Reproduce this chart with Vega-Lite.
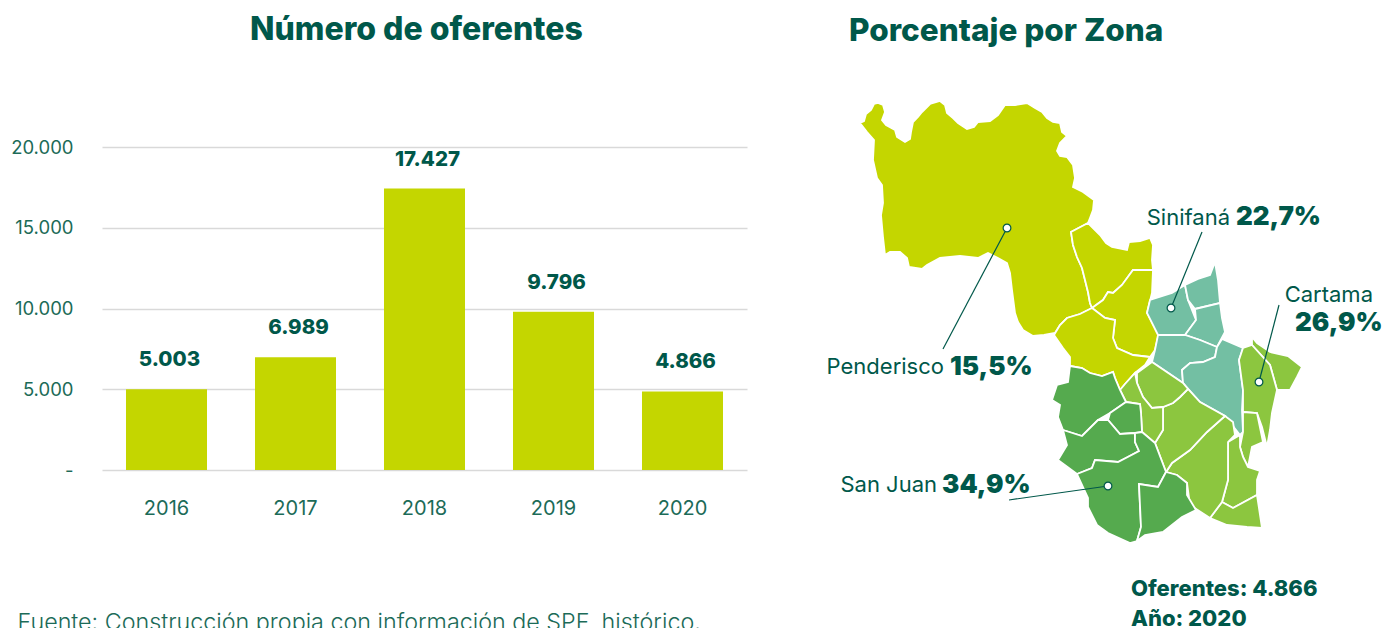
{
"$schema":"https://vega.github.io/schema/vega-lite/v6.json",
"padding":0,"spacing":0,"bounds":"flush","background":"white",
"config":{"view":{"stroke":null},"font":"Inter","locale":{"number":{"decimal":",","thousands":".","grouping":[3],"currency":["$",""]}}},
"datasets":{
"oferentes":[{"anio":"2016","valor":5003},{"anio":"2017","valor":6989},{"anio":"2018","valor":17427},{"anio":"2019","valor":9796},{"anio":"2020","valor":4866}],
"zonas":[
{"type":"Feature","properties":{"zona":"Penderisco"},"geometry":{"type":"Polygon","coordinates":[[[860,123],[864,121],[866,114],[871,110],[874,104],[878,103],[883,105],[885,112],[882,120],[886,125],[895,130],[897,137],[905,142],[910,139],[911,132],[913,122],[918,117],[922,112],[930,104],[940,101],[945,105],[947,113],[953,118],[958,123],[967,129],[974,127],[978,122],[990,121],[998,115],[1005,105],[1015,105],[1027,103],[1035,108],[1042,112],[1047,118],[1053,122],[1060,123],[1062,132],[1067,136],[1060,143],[1057,151],[1060,156],[1067,157],[1073,165],[1075,178],[1073,187],[1083,192],[1094,200],[1093,210],[1090,218],[1088,223],[1071,232],[1073,245],[1077,257],[1082,268],[1085,280],[1088,292],[1090,303],[1092,308],[1080,314],[1067,318],[1060,325],[1055,333],[1044,335],[1033,336],[1023,330],[1018,322],[1015,313],[1012,290],[1010,273],[1007,263],[998,258],[988,253],[978,258],[960,256],[940,258],[927,265],[922,269],[909,267],[907,258],[900,252],[890,252],[885,255],[883,237],[881,215],[883,203],[882,185],[877,178],[873,160],[874,140],[867,132],[860,123]]]}},
{"type":"Feature","properties":{"zona":"Penderisco"},"geometry":{"type":"Polygon","coordinates":[[[1088,223],[1100,235],[1106,243],[1112,247],[1127,250],[1129,242],[1140,241],[1150,238],[1153,245],[1152,260],[1153,270],[1133,270],[1122,285],[1113,293],[1108,292],[1103,300],[1092,308],[1090,303],[1088,292],[1085,280],[1082,268],[1077,257],[1073,245],[1071,232],[1088,223]]]}},
{"type":"Feature","properties":{"zona":"Penderisco"},"geometry":{"type":"Polygon","coordinates":[[[1092,308],[1103,300],[1108,292],[1113,293],[1122,285],[1133,270],[1153,270],[1152,293],[1147,313],[1158,333],[1158,337],[1155,350],[1150,357],[1133,355],[1117,348],[1113,338],[1115,320],[1105,318],[1092,308]]]}},
{"type":"Feature","properties":{"zona":"Penderisco"},"geometry":{"type":"Polygon","coordinates":[[[1092,308],[1105,318],[1115,320],[1113,338],[1117,348],[1133,355],[1150,357],[1145,365],[1135,373],[1125,384],[1120,390],[1115,378],[1113,372],[1102,376],[1090,373],[1082,368],[1070,366],[1070,357],[1063,348],[1054,335],[1060,325],[1067,318],[1080,314],[1092,308]]]}},
{"type":"Feature","properties":{"zona":"Sinifaná"},"geometry":{"type":"Polygon","coordinates":[[[1150,300],[1172,293],[1185,285],[1188,300],[1196,320],[1185,335],[1158,335],[1147,313],[1150,300]]]}},
{"type":"Feature","properties":{"zona":"Sinifaná"},"geometry":{"type":"Polygon","coordinates":[[[1185,285],[1198,279],[1210,275],[1215,262],[1218,280],[1220,303],[1195,309],[1188,300],[1185,285]]]}},
{"type":"Feature","properties":{"zona":"Sinifaná"},"geometry":{"type":"Polygon","coordinates":[[[1195,309],[1220,303],[1222,318],[1225,332],[1217,347],[1200,340],[1185,335],[1196,320],[1195,309]]]}},
{"type":"Feature","properties":{"zona":"Sinifaná"},"geometry":{"type":"Polygon","coordinates":[[[1158,335],[1185,335],[1200,340],[1217,347],[1215,357],[1203,362],[1190,363],[1182,370],[1183,383],[1152,362],[1155,350],[1158,335]]]}},
{"type":"Feature","properties":{"zona":"Sinifaná"},"geometry":{"type":"Polygon","coordinates":[[[1217,347],[1222,339],[1243,348],[1239,360],[1243,390],[1242,410],[1243,432],[1240,435],[1225,416],[1200,402],[1183,383],[1182,370],[1190,363],[1203,362],[1215,357],[1217,347]]]}},
{"type":"Feature","properties":{"zona":"Cartama"},"geometry":{"type":"Polygon","coordinates":[[[1252,337],[1257,343],[1270,352],[1288,356],[1302,367],[1297,377],[1290,390],[1277,390],[1270,365],[1252,345],[1252,337]]]}},
{"type":"Feature","properties":{"zona":"Cartama"},"geometry":{"type":"Polygon","coordinates":[[[1252,345],[1270,365],[1277,390],[1272,413],[1270,430],[1267,447],[1262,427],[1257,413],[1243,412],[1243,390],[1239,360],[1243,348],[1252,345]]]}},
{"type":"Feature","properties":{"zona":"Cartama"},"geometry":{"type":"Polygon","coordinates":[[[1243,412],[1257,413],[1263,442],[1252,447],[1248,467],[1243,457],[1240,447],[1243,432],[1243,412]]]}},
{"type":"Feature","properties":{"zona":"Cartama"},"geometry":{"type":"Polygon","coordinates":[[[1240,435],[1240,447],[1243,457],[1248,467],[1260,471],[1257,480],[1257,495],[1233,508],[1222,502],[1228,480],[1228,442],[1240,435]]]}},
{"type":"Feature","properties":{"zona":"Cartama"},"geometry":{"type":"Polygon","coordinates":[[[1222,502],[1233,508],[1257,495],[1262,528],[1247,527],[1227,525],[1210,518],[1222,502]]]}},
{"type":"Feature","properties":{"zona":"Cartama"},"geometry":{"type":"Polygon","coordinates":[[[1225,416],[1233,422],[1235,435],[1228,442],[1228,480],[1222,502],[1210,518],[1190,505],[1187,483],[1177,475],[1166,472],[1172,463],[1190,450],[1207,432],[1225,416]]]}},
{"type":"Feature","properties":{"zona":"Cartama"},"geometry":{"type":"Polygon","coordinates":[[[1188,389],[1200,402],[1225,416],[1207,432],[1190,450],[1172,463],[1166,472],[1155,443],[1163,430],[1163,407],[1173,403],[1180,397],[1188,389]]]}},
{"type":"Feature","properties":{"zona":"Cartama"},"geometry":{"type":"Polygon","coordinates":[[[1152,362],[1183,383],[1188,389],[1180,397],[1173,403],[1163,407],[1152,408],[1143,397],[1137,383],[1137,373],[1152,362]]]}},
{"type":"Feature","properties":{"zona":"Cartama"},"geometry":{"type":"Polygon","coordinates":[[[1135,373],[1137,383],[1143,397],[1152,408],[1163,407],[1163,430],[1155,443],[1142,432],[1141,413],[1140,404],[1126,402],[1120,390],[1125,384],[1135,373]]]}},
{"type":"Feature","properties":{"zona":"San Juan"},"geometry":{"type":"Polygon","coordinates":[[[1070,366],[1082,368],[1090,373],[1102,376],[1113,372],[1115,378],[1120,390],[1126,402],[1110,413],[1098,420],[1082,436],[1063,430],[1058,417],[1060,405],[1052,400],[1057,385],[1068,382],[1070,366]]]}},
{"type":"Feature","properties":{"zona":"San Juan"},"geometry":{"type":"Polygon","coordinates":[[[1126,402],[1140,404],[1141,413],[1142,432],[1135,433],[1120,434],[1108,420],[1110,413],[1126,402]]]}},
{"type":"Feature","properties":{"zona":"San Juan"},"geometry":{"type":"Polygon","coordinates":[[[1063,430],[1082,436],[1098,420],[1108,420],[1120,434],[1135,433],[1135,442],[1139,451],[1128,457],[1118,462],[1095,460],[1092,468],[1077,474],[1058,460],[1067,445],[1063,430]]]}},
{"type":"Feature","properties":{"zona":"San Juan"},"geometry":{"type":"Polygon","coordinates":[[[1077,474],[1092,468],[1095,460],[1118,462],[1139,451],[1135,442],[1135,433],[1142,432],[1155,443],[1166,472],[1158,487],[1139,484],[1141,527],[1137,541],[1130,543],[1108,533],[1097,525],[1088,507],[1088,498],[1077,474]]]}},
{"type":"Feature","properties":{"zona":"San Juan"},"geometry":{"type":"Polygon","coordinates":[[[1139,484],[1158,487],[1166,472],[1177,475],[1187,483],[1187,495],[1196,510],[1182,517],[1163,532],[1145,535],[1137,541],[1141,527],[1139,484]]]}}
],
"guias":[
{"zona":"Penderisco","px":1007,"py":228,"ex":943,"ey":349},
{"zona":"Sinifaná","px":1171,"py":308,"ex":1202,"ey":232},
{"zona":"Cartama","px":1259,"py":382,"ex":1279,"ey":305},
{"zona":"San Juan","px":1108,"py":486,"ex":1009,"ey":500}
],
"nombres":[
{"t":"Penderisco","x":944,"y":374},{"t":"San Juan","x":937,"y":492},{"t":"Sinifaná","x":1230,"y":225},{"t":"Cartama","x":1373,"y":302}
],
"porcentajes":[
{"t":"15,5%","x":950,"y":375},{"t":"34,9%","x":942,"y":493},{"t":"22,7%","x":1236,"y":225},{"t":"26,9%","x":1295,"y":331}
],
"resumen":[
{"t":"Oferentes: 4.866","x":1131,"y":596},{"t":"Año: 2020","x":1131,"y":626}
]
},
"hconcat":[
{
"width":760,"height":628,
"title":{"text":"Número de oferentes","anchor":"start","frame":"group","dx":250,"offset":-72,"baseline":"alphabetic","fontSize":32,"fontWeight":800,"color":"#00584A","font":"Inter"},
"data":{"name":"oferentes"},
"encoding":{
"x":{"field":"anio","type":"ordinal","scale":{"range":[102,747],"paddingInner":0.372,"paddingOuter":0.186},
"axis":{"labelAngle":0,"domain":false,"ticks":false,"offset":-130,"labelPadding":0,"labelFontSize":20,"labelColor":"#1C6B58","labelFontWeight":400,"labelFont":"Inter",
"title":"Fuente: Construcción propia con información de SPF, histórico.","titleX":17,"titleY":131,"titleAnchor":"start","titleAlign":"left","titleBaseline":"alphabetic","titleFontSize":23.3,"titleFontWeight":300,"titleColor":"#1C6B58","titleFont":"Inter"}},
"y":{"field":"valor","type":"quantitative","scale":{"domain":[0,20000],"range":[470,147],"nice":false},
"axis":{"values":[0,5000,10000,15000,20000],"format":",d","labelExpr":"datum.value==0?'-':datum.label","domain":false,"ticks":false,"offset":-73,"labelPadding":0,"labelFontSize":18.5,"labelColor":"#1C6B58","labelFontWeight":400,"labelFont":"Inter","title":null,"grid":true,"gridColor":"#D9D9D9","gridWidth":1.5}}
},
"layer":[
{"mark":{"type":"bar","color":"#C4D600"}},
{"mark":{"type":"text","dy":-23,"dx":3,"fontSize":20.5,"fontWeight":800,"color":"#00584A","font":"Inter","baseline":"alphabetic"},"encoding":{"text":{"field":"valor","type":"quantitative","format":",d"}}}
]
},
{
"width":623,"height":628,
"title":{"text":"Porcentaje por Zona","anchor":"start","frame":"group","dx":89,"offset":-72,"baseline":"alphabetic","fontSize":31.5,"fontWeight":800,"color":"#00584A","font":"Inter"},
"projection":{"type":"identity","scale":1,"translate":[-760,0]},
"layer":[
{"data":{"name":"zonas"},"mark":{"type":"geoshape","stroke":"white","strokeWidth":1.8},"encoding":{"color":{"field":"properties.zona","type":"nominal","legend":null,"scale":{"domain":["Penderisco","Sinifaná","Cartama","San Juan"],"range":["#C4D600","#73BFA3","#8CC63F","#55AA4E"]}}}},
{"data":{"name":"guias"},"mark":{"type":"rule","color":"#00584A","strokeWidth":1.2},"encoding":{"longitude":{"field":"px","type":"quantitative"},"latitude":{"field":"py","type":"quantitative"},"longitude2":{"field":"ex"},"latitude2":{"field":"ey"}}},
{"data":{"name":"guias"},"mark":{"type":"point","filled":true,"fill":"white","stroke":"#00584A","strokeWidth":1.2,"size":60,"opacity":1},"encoding":{"longitude":{"field":"px","type":"quantitative"},"latitude":{"field":"py","type":"quantitative"}}},
{"data":{"name":"nombres"},"mark":{"type":"text","align":"right","baseline":"alphabetic","fontSize":22,"fontWeight":400,"color":"#00584A","font":"Inter"},"encoding":{"longitude":{"field":"x","type":"quantitative"},"latitude":{"field":"y","type":"quantitative"},"text":{"field":"t"}}},
{"data":{"name":"porcentajes"},"mark":{"type":"text","align":"left","baseline":"alphabetic","fontSize":26,"fontWeight":900,"color":"#00584A","font":"Inter"},"encoding":{"longitude":{"field":"x","type":"quantitative"},"latitude":{"field":"y","type":"quantitative"},"text":{"field":"t"}}},
{"data":{"name":"resumen"},"mark":{"type":"text","align":"left","baseline":"alphabetic","fontSize":22,"fontWeight":800,"color":"#00584A","font":"Inter"},"encoding":{"longitude":{"field":"x","type":"quantitative"},"latitude":{"field":"y","type":"quantitative"},"text":{"field":"t"}}}
]
}
]
}
